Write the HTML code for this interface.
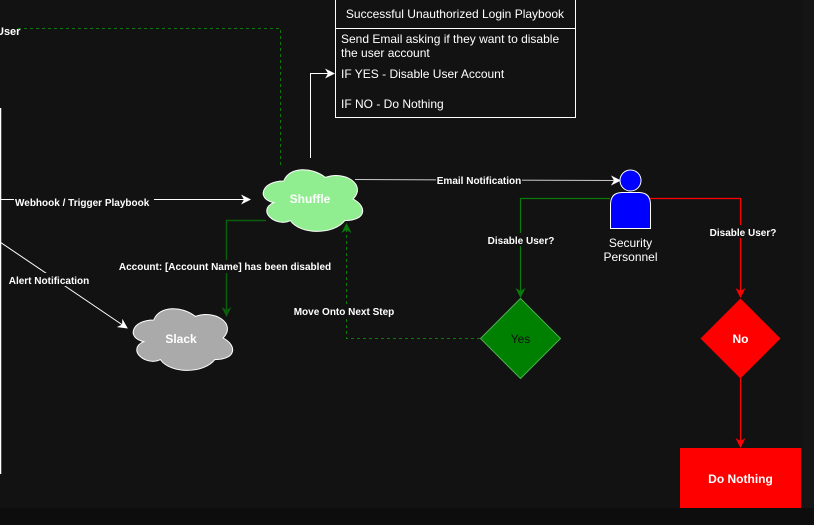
<!DOCTYPE html>
<html><head><meta charset="utf-8"><style>
html,body{margin:0;padding:0;background:#121212;}
svg{display:block;font-family:"Liberation Sans",Arial,sans-serif;}
</style></head><body>
<svg width="814" height="525" viewBox="0 0 814 525" xmlns="http://www.w3.org/2000/svg">
<defs>
<marker id="aw" markerWidth="10" markerHeight="10" refX="9" refY="5" orient="auto" markerUnits="userSpaceOnUse"><path d="M0,0 L10,5 L0,10 L3,5 Z" fill="#fff"/></marker>
<marker id="ag" markerWidth="10" markerHeight="10" refX="9" refY="5" orient="auto" markerUnits="userSpaceOnUse"><path d="M0,0 L10,5 L0,10 L3,5 Z" fill="#0a7a0a"/></marker>
<marker id="adg" markerWidth="10" markerHeight="10" refX="9" refY="5" orient="auto" markerUnits="userSpaceOnUse"><path d="M0,0 L10,5 L0,10 L3,5 Z" fill="#0b5e0b"/></marker>
<marker id="ar" markerWidth="10" markerHeight="10" refX="9" refY="5" orient="auto" markerUnits="userSpaceOnUse"><path d="M0,0 L10,5 L0,10 L3,5 Z" fill="#f00"/></marker>
<path id="cloud" d="M30 20 C6 20 0 40 19.2 44 C0 52.8 21.6 72 37.2 64 C48 80 84 80 96 64 C120 64 120 48 105 40 C120 24 96 8 75 16 C60 4 36 4 30 20 Z"/>
</defs>
<rect x="0" y="0" width="814" height="525" fill="#121212"/>
<rect x="0" y="508" width="814" height="17" fill="#0d0d0d"/>
<rect x="802" y="0" width="12" height="508" fill="#151515"/>

<!-- left white line -->
<line x1="0.5" y1="108" x2="0.5" y2="474" stroke="#fff" stroke-width="1.5"/>

<!-- green dashed top -->
<polyline points="18,28.5 280.5,28.5 280.5,168" fill="none" stroke="#0a7a0a" stroke-dasharray="3,3"/>
<text x="-4" y="35" fill="#fff" font-size="11" font-weight="bold">User</text>

<!-- playbook box -->
<rect x="335.5" y="-2" width="240" height="119.5" fill="#121212" stroke="#fff"/>
<line x1="335.5" y1="28.5" x2="575.5" y2="28.5" stroke="#fff"/>
<text x="455" y="18" fill="#fff" font-size="12" text-anchor="middle">Successful Unauthorized Login Playbook</text>
<text x="341" y="43" fill="#fff" font-size="12">Send Email asking if they want to disable</text>
<text x="341" y="57" fill="#fff" font-size="12">the user account</text>
<text x="341" y="78" fill="#fff" font-size="12">IF YES - Disable User Account</text>
<text x="341" y="108" fill="#fff" font-size="12">IF NO - Do Nothing</text>

<!-- shuffle to box -->
<polyline points="310.5,158 310.5,73.5 334,73.5" fill="none" stroke="#fff" marker-end="url(#aw)"/>

<!-- webhook -->
<line x1="0" y1="199.5" x2="250" y2="199.5" stroke="#fff" marker-end="url(#aw)"/>
<rect x="14" y="194" width="140" height="12" fill="#121212"/>
<text x="15" y="206" fill="#fff" font-size="10" font-weight="bold">Webhook / Trigger Playbook</text>

<!-- email notification -->
<line x1="355" y1="179.5" x2="620" y2="180.5" stroke="#ccc" marker-end="url(#aw)"/>
<rect x="436" y="174" width="86" height="12" fill="#121212"/>
<text x="479" y="184" fill="#fff" font-size="10" font-weight="bold" text-anchor="middle">Email Notification</text>

<!-- alert notification -->
<line x1="0" y1="242" x2="127" y2="328" stroke="#fff" marker-end="url(#aw)"/>
<rect x="8" y="273" width="82" height="13" fill="#121212"/>
<text x="49" y="284" fill="#fff" font-size="10" font-weight="bold" text-anchor="middle">Alert Notification</text>

<!-- shuffle to slack dark green -->
<polyline points="266,220.5 226.5,220.5 226.5,316" fill="none" stroke="#0b5e0b" stroke-width="1.5" marker-end="url(#adg)"/>
<rect x="116" y="260" width="218" height="13" fill="#121212"/>
<text x="225" y="270" fill="#fff" font-size="10" font-weight="bold" text-anchor="middle">Account: [Account Name] has been disabled</text>

<!-- yes back dashed -->
<polyline points="480,338.5 346.5,338.5 346.5,224" fill="none" stroke="#0a7a0a" stroke-dasharray="3,3" marker-end="url(#ag)"/>
<rect x="290" y="305" width="108" height="13" fill="#121212"/>
<text x="344" y="315" fill="#fff" font-size="10" font-weight="bold" text-anchor="middle">Move Onto Next Step</text>

<!-- clouds -->
<use href="#cloud" transform="translate(256,163) scale(0.925,0.9)" fill="#90ee90" stroke="#fff" stroke-width="1.1"/>
<text x="310" y="203" fill="#fff" font-size="12" font-weight="bold" text-anchor="middle">Shuffle</text>
<use href="#cloud" transform="translate(126,302) scale(0.925,0.9)" fill="#aaa" stroke="#fff" stroke-width="1.1"/>
<text x="181" y="343" fill="#fff" font-size="12" font-weight="bold" text-anchor="middle">Slack</text>

<!-- person -->
<circle cx="630.5" cy="180.5" r="10.5" fill="#0000ff" stroke="#fff"/>
<path d="M610.5,228.5 L610.5,205 Q610.5,192.5 622,192.5 L639,192.5 Q650.5,192.5 650.5,205 L650.5,228.5 Z" fill="#0000ff" stroke="#fff"/>
<text x="630.5" y="247" fill="#fff" font-size="12" text-anchor="middle">Security</text>
<text x="630.5" y="261" fill="#fff" font-size="12" text-anchor="middle">Personnel</text>

<!-- green branch -->
<polyline points="610,198.5 520.5,198.5 520.5,297" fill="none" stroke="#0a7a0a" stroke-width="1.2" marker-end="url(#ag)"/>
<rect x="484" y="233" width="74" height="13" fill="#121212"/>
<text x="521" y="244" fill="#fff" font-size="10" font-weight="bold" text-anchor="middle">Disable User?</text>
<polygon points="520.5,298.5 560.5,338.5 520.5,378.5 480.5,338.5" fill="#008000" stroke="#4caf50"/>
<text x="520.5" y="343" fill="#111" font-size="12" text-anchor="middle">Yes</text>

<!-- red branch -->
<polyline points="650,198.5 740.5,198.5 740.5,297" fill="none" stroke="#f00" stroke-width="1.2" marker-end="url(#ar)"/>
<rect x="706" y="225" width="74" height="13" fill="#121212"/>
<text x="743" y="236" fill="#fff" font-size="10" font-weight="bold" text-anchor="middle">Disable User?</text>
<polygon points="740.5,298.5 780.5,338.5 740.5,378.5 700.5,338.5" fill="#f00"/>
<text x="740.5" y="343" fill="#fff" font-size="12" font-weight="bold" text-anchor="middle">No</text>
<line x1="740.5" y1="378" x2="740.5" y2="447" stroke="#f00" stroke-width="1.2" marker-end="url(#ar)"/>
<rect x="680" y="448" width="121" height="60" fill="#f00"/>
<text x="740.5" y="483" fill="#fff" font-size="12" font-weight="bold" text-anchor="middle">Do Nothing</text>
</svg>
</body></html>
